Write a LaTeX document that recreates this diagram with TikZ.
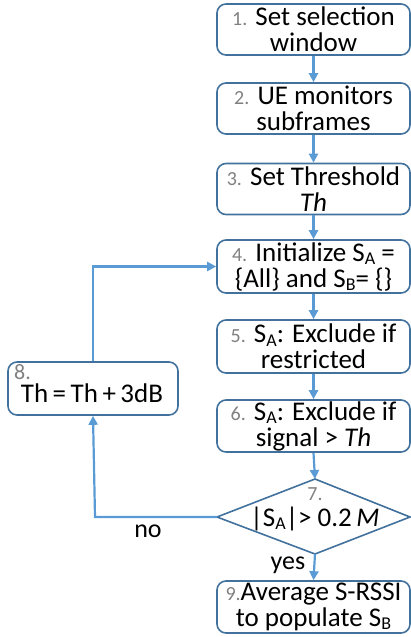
\documentclass[tikz,border=0pt]{standalone}
\usepackage{fontspec}
\setmainfont{Carlito}
\usetikzlibrary{arrows.meta}
\definecolor{boxline}{HTML}{41719C}
\definecolor{arrowc}{HTML}{5B9BD5}
\definecolor{numc}{HTML}{808080}
\newcommand\nm[1]{{\fontsize{20}{20}\selectfont\color{numc}#1}}
\newcommand\sbs[1]{\raisebox{-0.25ex}{\fontsize{18}{18}\selectfont #1}}
\begin{document}
\begin{tikzpicture}[x=1pt,y=-1pt,
  stepbox/.style={draw=boxline, line width=1.6pt, rounded corners=9pt, minimum width=193pt, minimum height=51pt, inner sep=0pt, align=center, font=\fontsize{27}{26}\selectfont},
  txt/.style={inner sep=0pt, align=center, font=\fontsize{27}{26}\selectfont},
  conn/.style={draw=arrowc, line width=2.2pt, -{Triangle[length=9pt,width=9pt]}},
  lbl/.style={inner sep=0pt, font=\fontsize{26}{26}\selectfont}
  ]
\useasboundingbox (0,0) rectangle (411,637);
\node[stepbox] (s1) at (313.5,29.5) {\nm{1.} Set selection\\window};
\node[stepbox] (s2) at (313.5,108.5) {\nm{2.} UE monitors\\subframes};
\node[stepbox] (s3) at (313.5,189) {\nm{3.} Set Threshold\\\textit{Th}};
\node[stepbox, minimum height=53pt] (s4) at (313.5,266.5) {\nm{4.} Initialize S\sbs{A} =\\\{All\} and S\sbs{B}= \{\}};
\node[stepbox, minimum height=53pt] (s5) at (313.5,346.5) {\nm{5.} S\sbs{A}: Exclude if\\restricted};
\node[stepbox, minimum height=52pt] (s6) at (313.5,426) {\nm{6.} S\sbs{A}: Exclude if\\signal > \textit{Th}};
\node[stepbox, minimum height=52pt] (s9) at (313.5,607) {\nm{9.}Average S-RSSI\\to populate S\sbs{B}};
\node[stepbox, minimum width=170pt, minimum height=53pt] (s8) at (93,388.5) {};
\node[inner sep=0pt, anchor=north west] (n8) at (14,364) {\fontsize{22}{22}\selectfont\color{numc}8.};
\node[txt] (t8) at (92,393) {Th\,=\,Th\,+\,3dB};
% decision
\coordinate (dt) at (315,479);
\coordinate (dr) at (410,517);
\coordinate (db) at (315,554);
\coordinate (dl) at (217,517);
\draw[draw=boxline, line width=1.6pt] (dt) -- (dr) -- (db) -- (dl) -- cycle;
\node[inner sep=0pt] (d7) at (315,494) {\nm{7.}};
\node[txt] (dtext) at (315,519) {|S\sbs{A}|> 0.2\,\textit{M}};
\coordinate (corner1) at (95,517);
% connectors
\draw[conn] (s1.south) -- (s2.north);
\draw[conn] (s2.south) -- (s3.north);
\draw[conn] (s3.south) -- (s4.north);
\draw[conn] (s4.south) -- (s5.north);
\draw[conn] (s5.south) -- (s6.north);
\draw[conn] (s6.south) -- (dt);
\draw[conn] (db) -- (s9.north);
\draw[conn] (dl) -- (corner1) -- (s8.south);
\draw[conn] (s8.north) |- (s4.west);
\node[lbl] (no) at (148,531) {no};
\node[lbl] (yes) at (288,565) {yes};
\end{tikzpicture}
\end{document}
